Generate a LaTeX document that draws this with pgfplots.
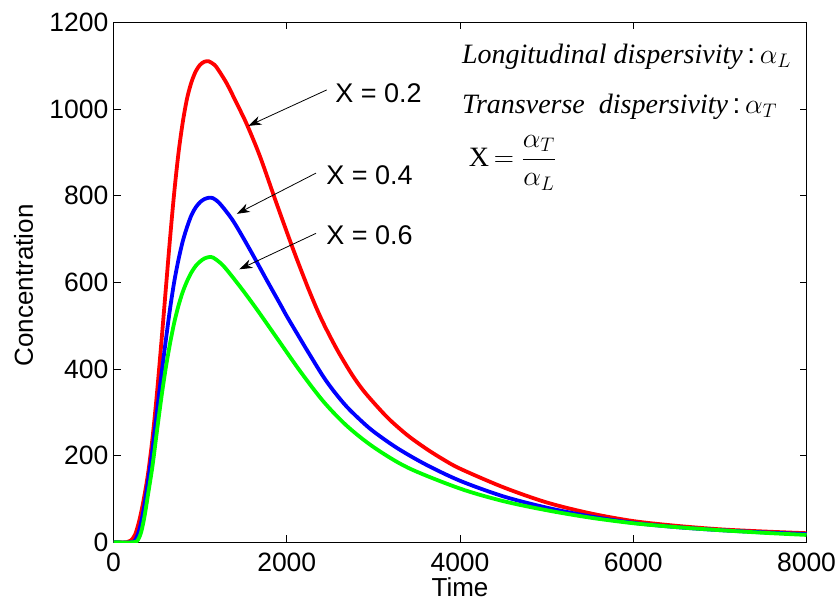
\RequirePackage{fix-cm}
\documentclass[border=0pt]{standalone}
\usepackage{pgfplots}
\pgfplotsset{compat=1.18}
\usetikzlibrary{arrows.meta}
\usepackage{fontspec}
\setmainfont{Liberation Sans}
\newfontfamily\timesfont{Liberation Serif}

\pgfplotstableread{
t v
0 0
150 0
200 4
250 18
300 52
350 100
400 160
450 240
500 340
550 455
600 575
650 695
700 805
750 898
800 970
850 1025
900 1062
950 1087
1000 1102
1050 1109
1100 1110
1150 1104
1191 1096
1307 1059
1422 1013
1538 965
1692 890
1884 781
2076 675
2250 585
2400 515
2577 446
2750 388
2885 350
3050 312
3193 282
3400 246
3617 215
3800 192
4000 170
4500 127
5000 92
5500 67
6000 49
6500 38
7000 30
7500 25
8000 21
}\redtab

\pgfplotstableread{
t v
0 0
200 0
250 5
300 30
350 78
400 142
450 215
500 298
550 382
600 460
650 535
700 600
750 652
800 695
850 728
900 755
950 773
1000 785
1050 792
1100 795
1150 794
1230 781
1383 741
1576 675
1769 605
1923 550
2000 522
2154 470
2250 438
2423 382
2550 347
2692 313
2850 282
3000 256
3270 218
3600 180
4000 142
4500 106
5000 80
5500 60
6000 45
6500 35
7000 28
7500 23
8000 19
}\bluetab

\pgfplotstableread{
t v
0 0
230 0
280 5
320 24
360 62
400 112
450 176
500 254
550 330
600 398
650 456
700 506
750 546
800 578
850 603
900 623
950 638
1000 648
1050 655
1100 658
1150 657
1268 638
1461 590
1653 538
1884 472
2154 395
2423 325
2692 269
3000 220
3400 172
4000 124
4500 95
5000 74
5500 57
6000 44
6500 35
7000 28
7500 22
8000 17
}\greentab

\begin{document}
\begin{tikzpicture}
\begin{axis}[
  scale only axis, width=693pt, height=520pt,
  xmin=0, xmax=8000, ymin=0, ymax=1200,
  xtick={0,2000,4000,6000,8000},
  ytick={0,200,400,600,800,1000,1200},
  tick align=inside, major tick length=7pt,
  axis line style={line width=1.3pt, black},
  tick style={line width=0.9pt, black},
  scaled ticks=false,
  /pgf/number format/assume math mode=true,
  /pgf/number format/set thousands separator={},
  ticklabel style={font=\fontsize{26.5}{30}\selectfont},
  xticklabel style={anchor=base, yshift=-29.5pt},
  yticklabel style={anchor=east, inner sep=0pt, xshift=-5pt},
  xlabel={Time}, ylabel={Concentration},
  label style={font=\fontsize{26}{30}\selectfont},
  xlabel style={at={(axis description cs:0.5,0)}, anchor=base, inner sep=0pt, yshift=-54pt},
  ylabel style={at={(axis description cs:0,0.5)}, anchor=base, inner sep=0pt, yshift=80.5pt, xshift=-3pt},
]
\addplot[red, line width=3.8pt, smooth, line join=round] table[x=t,y=v]{\redtab};
\addplot[blue, line width=3.8pt, smooth, line join=round] table[x=t,y=v]{\bluetab};
\addplot[green, line width=3.8pt, smooth, line join=round] table[x=t,y=v]{\greentab};

\draw[line width=0.8pt, -{Stealth[length=13pt,width=9pt,inset=4pt]}] (axis cs:2462,1044) -- (axis cs:1557,961);
\draw[line width=0.8pt, -{Stealth[length=13pt,width=9pt,inset=4pt]}] (axis cs:2338,852) -- (axis cs:1423,758);
\draw[line width=0.8pt, -{Stealth[length=13pt,width=9pt,inset=4pt]}] (axis cs:2338,713) -- (axis cs:1453,630);

\node[anchor=west, inner sep=0pt, font=\fontsize{27}{30}\selectfont] at (axis cs:2558,1036) {X = 0.2};
\node[anchor=west, inner sep=0pt, font=\fontsize{27}{30}\selectfont] at (axis cs:2454,848) {X = 0.4};
\node[anchor=west, inner sep=0pt, font=\fontsize{27}{30}\selectfont] at (axis cs:2454,709) {X = 0.6};

\node[anchor=base west, inner sep=0pt, font=\fontsize{28}{32}\selectfont] at (axis cs:4021,1105) {{\timesfont\itshape Longitudinal dispersivity}\,:\,$\alpha_{L}$};
\node[anchor=base west, inner sep=0pt, font=\fontsize{28}{32}\selectfont] at (axis cs:4021,990) {{\timesfont\itshape Transverse\ \ dispersivity}\,:\,$\alpha_{T}$};
\node[anchor=base west, inner sep=0pt, font=\fontsize{28}{32}\selectfont] at (axis cs:4100,867) {{\timesfont X}$\,=\displaystyle\frac{\alpha_{T}}{\alpha_{L}}$};
\end{axis}
\pgfresetboundingbox
\path ([shift={(-113.5pt,-58.7pt)}]current axis.south west) rectangle ([shift={(33.5pt,22.3pt)}]current axis.north east);
\end{tikzpicture}
\end{document}
